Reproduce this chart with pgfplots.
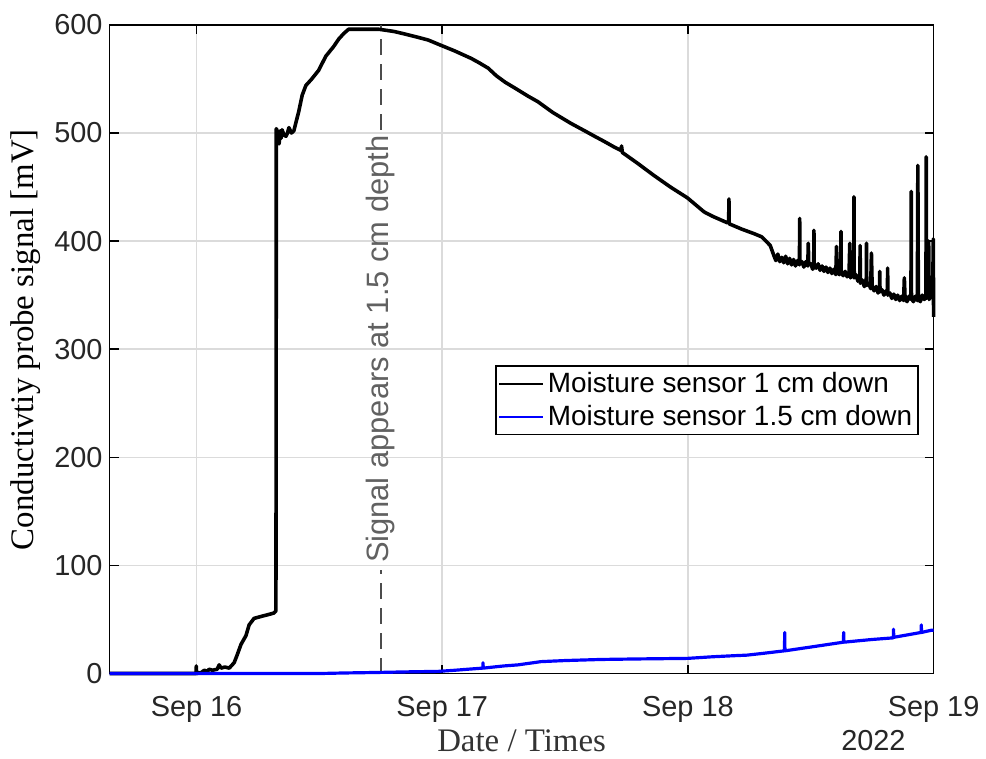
\documentclass[border=0pt]{standalone}
\usepackage{fontspec}
\setmainfont{Liberation Serif}
\newfontfamily\arial{Liberation Sans}
\usepackage{pgfplots}
\pgfplotsset{compat=1.18}
\definecolor{gridc}{gray}{0.86}
\definecolor{vline}{gray}{0.3}
\definecolor{vtext}{gray}{0.38}
\begin{document}
\begin{tikzpicture}
\begin{axis}[
  at={(0pt,0pt)}, anchor=south west,
  scale only axis, width=413.5pt, height=325.5pt,
  xmin=-0.354, xmax=3, ymin=0, ymax=600,
  xtick={0,1,2,3}, xticklabels={Sep 16,Sep 17,Sep 18,Sep 19},
  ytick={0,100,200,300,400,500,600},
  /pgf/number format/assume math mode=true,
  ticklabel style={font=\arial\fontsize{14.5}{17}\selectfont, text=black!85},
  xticklabel style={yshift=-8pt},
  tick align=inside, major tick length=4.5pt,
  tick style={black, line width=0.8pt},
  axis line style={black, line width=0.9pt},
  grid=major, major grid style={gridc, line width=0.8pt},
  xlabel={Date / Times},
  xlabel style={font=\fontsize{16.5}{19}\selectfont, text=black!80, at={(rel axis cs:0.5,0)}, anchor=base, yshift=-39pt},
  ylabel={Conductivtiy probe signal [mV]},
  ylabel style={font=\fontsize{16.5}{19}\selectfont, at={(rel axis cs:0,0.5)}, anchor=center, yshift=42pt, xshift=4.75pt},
  clip=false,
  legend style={at={(0.468,0.475)}, anchor=north west, draw=black, line width=0.8pt, fill=white,
    inner xsep=1pt, inner ysep=1pt, row sep=1pt,
    font=\arial\fontsize{14}{16}\selectfont},
  legend cell align=left,
  legend image code/.code={\draw[#1, line width=1pt] (0pt,0pt) -- (22pt,0pt);},
]
% dashed vertical marker
\addplot[vline, dashed, dash pattern=on 8pt off 4.5pt, line width=1.1pt, forget plot] coordinates {(0.75,0) (0.75,96)};
\addplot[vline, dashed, dash pattern=on 8pt off 4.5pt, line width=1.1pt, forget plot] coordinates {(0.75,503) (0.75,600)};
\node[rotate=90, text=vtext, font=\arial\fontsize{15.5}{18}\selectfont] at (axis cs:0.75,300) {Signal appears at 1.5 cm depth};

\addplot[black, line width=1.8pt, line join=round] coordinates {
(-0.354,0) (-0.002,0) (-0.001,7) (0.0,0) (0.02,1) (0.031,3) (0.045,2) (0.051,4) (0.065,3) (0.084,4)
(0.092,8) (0.10,5) (0.115,6) (0.133,5) (0.145,8) (0.153,10) (0.165,17) (0.181,27) (0.201,35) (0.214,45)
(0.234,51) (0.266,53) (0.300,55) (0.315,56) (0.323,58) (0.3235,146) (0.324,229) (0.3245,504)
(0.332,500) (0.336,490) (0.340,502) (0.344,495) (0.348,503) (0.356,498) (0.364,497) (0.370,500)
(0.376,505) (0.386,500) (0.396,502) (0.416,520) (0.430,535) (0.445,544) (0.469,550) (0.497,558)
(0.526,571) (0.558,580) (0.579,587) (0.599,592) (0.619,596) (0.680,596) (0.741,596) (0.802,594)
(0.840,592) (0.875,590) (0.910,588) (0.943,586) (0.996,581) (1.05,576) (1.118,569) (1.15,565) (1.187,560)
(1.22,553) (1.256,547) (1.30,541) (1.35,534) (1.389,529) (1.45,519) (1.523,509) (1.58,502) (1.62,497)
(1.661,492) (1.70,487) (1.727,484) (1.730,488) (1.733,482) (1.795,472) (1.86,461) (1.929,450) (1.998,440) (2.066,427)
(2.100,423) (2.160,417) (2.166,418) (2.167,439) (2.168,416) (2.22,411) (2.268,407) (2.300,404) (2.335,396)
(2.351,386) (2.358,382) (2.366,388) (2.374,381) (2.382,385) (2.390,380) (2.398,386) (2.406,379)
(2.414,384) (2.422,378) (2.430,383) (2.438,377) (2.446,382) (2.454,378) (2.455,421) (2.456,379)
(2.464,381) (2.472,376) (2.480,381) (2.488,377) (2.490,398) (2.492,378) (2.500,379) (2.508,374)
(2.512,376) (2.513,410) (2.514,377) (2.522,375) (2.530,379) (2.538,373) (2.546,377) (2.554,372)
(2.562,376) (2.570,371) (2.578,375) (2.586,370) (2.594,374) (2.602,369) (2.605,395) (2.608,372)
(2.616,369) (2.622,372) (2.623,409) (2.624,371) (2.632,368) (2.640,372) (2.648,367) (2.656,371)
(2.659,398) (2.662,366) (2.670,370) (2.675,368) (2.676,441) (2.677,366) (2.684,369) (2.692,363)
(2.700,365) (2.701,396) (2.702,361) (2.710,364) (2.718,358) (2.726,362) (2.727,398) (2.728,359)
(2.736,361) (2.744,356) (2.747,389) (2.750,358) (2.758,354) (2.766,358) (2.774,352) (2.780,356)
(2.781,372) (2.782,353) (2.790,355) (2.798,350) (2.806,354) (2.812,351) (2.813,375) (2.814,350)
(2.822,352) (2.830,347) (2.838,351) (2.846,346) (2.854,350) (2.862,345) (2.870,349) (2.878,345)
(2.881,366) (2.884,347) (2.892,344) (2.900,349) (2.908,346) (2.909,446) (2.910,347) (2.918,344)
(2.926,349) (2.934,345) (2.936,470) (2.938,347) (2.946,344) (2.954,350) (2.962,346) (2.969,348)
(2.970,478) (2.971,347) (2.978,350) (2.980,400) (2.982,346) (2.990,351) (2.996,348) (2.999,402)
(3.0,330)
};
\addlegendentry{Moisture sensor 1 cm down}

\addplot[blue, line width=1.6pt, line join=round] coordinates {
(-0.354,0) (0.50,0) (0.60,0.5) (0.741,1) (0.85,1.5) (0.984,2) (1.05,3) (1.106,4) (1.165,5) (1.166,10)
(1.167,5) (1.25,7) (1.308,8) (1.402,11) (1.50,12) (1.645,13) (1.80,13.5) (1.998,14) (2.10,15.5)
(2.189,16.5) (2.240,17) (2.30,18.5) (2.393,21) (2.394,38) (2.395,21) (2.50,24.5) (2.633,29)
(2.634,38) (2.635,29) (2.75,31.5) (2.836,33) (2.837,41) (2.838,33.5) (2.90,36) (2.949,38)
(2.950,45) (2.951,38) (2.99,40) (3.0,40)
};
\addlegendentry{Moisture sensor 1.5 cm down}

\node[anchor=base, font=\arial\fontsize{14.5}{17}\selectfont, text=black!85] at (axis cs:2.755,-71.5) {2022};
\end{axis}
\path[use as bounding box] (-55pt,-40.5pt) rectangle (438pt,338pt);
\end{tikzpicture}
\end{document}
